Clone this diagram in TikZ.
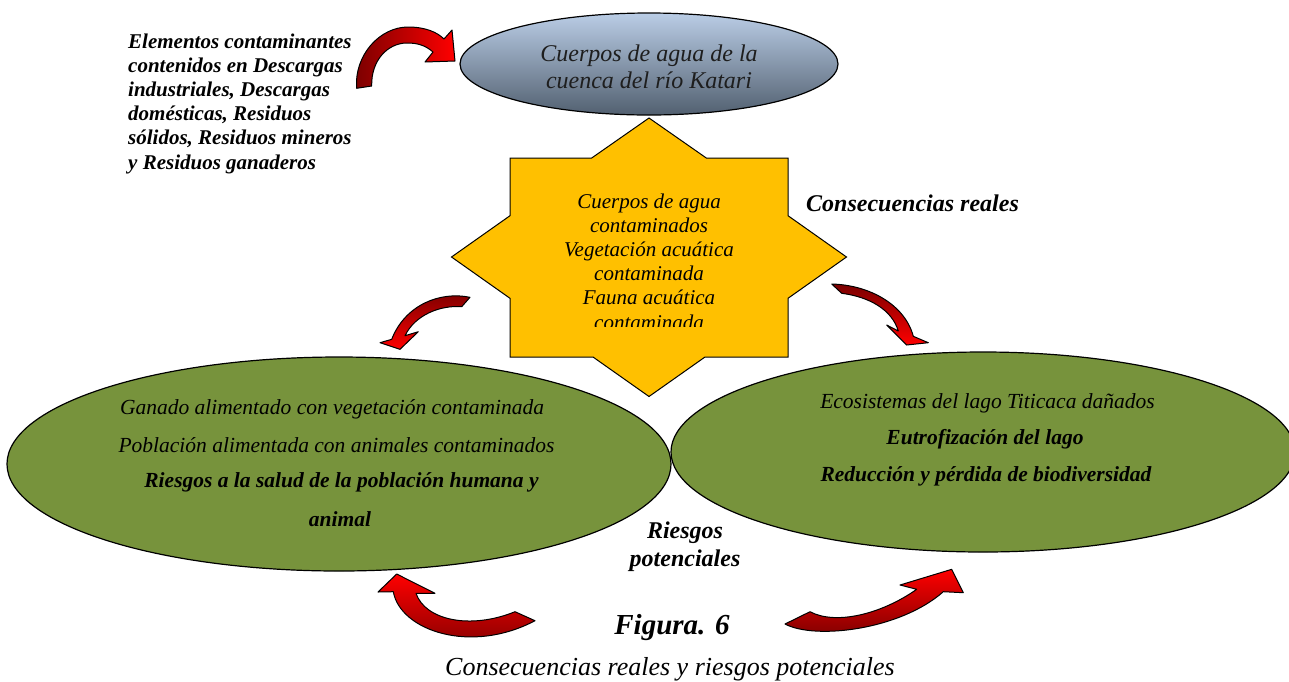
\documentclass[tikz,border=0pt]{standalone}
\usepackage{fontspec}
\setmainfont{Liberation Serif}
\usetikzlibrary{shapes.geometric}
\definecolor{gr}{HTML}{77933C}
\definecolor{starY}{HTML}{FFC000}
\definecolor{topL}{HTML}{BACDE6}
\definecolor{topD}{HTML}{526070}
\definecolor{dred}{HTML}{7A0000}
\definecolor{bred}{HTML}{FF0000}
\definecolor{txtg}{HTML}{1E1E1E}
\begin{document}
\begin{tikzpicture}[x=1pt,y=-1pt,
  oval/.style={ellipse, draw=black, line width=1.2pt, inner sep=0pt},
  blockarrow/.style={draw=black, line width=1pt, line join=round},
  itxt/.style={font=\fontsize{21.5}{24}\selectfont\itshape, inner sep=0pt},
  bitxt/.style={font=\fontsize{21.5}{24}\selectfont\bfseries\itshape, inner sep=0pt},
  lbl/.style={font=\fontsize{24}{27}\selectfont\bfseries\itshape, inner sep=0pt, align=center}
]
\useasboundingbox (0,0) rectangle (1289,681);

% green ellipses
\node[oval, fill=gr, minimum width=664pt, minimum height=214pt] (left) at (339,464) {};
\node[oval, fill=gr, minimum width=624pt, minimum height=200pt] (right) at (983,452) {};

% top ellipse
\node[oval, top color=topL, bottom color=topD, minimum width=378pt, minimum height=102pt] (top) at (649,64) {};
\node[font=\fontsize{24}{27}\selectfont\itshape, text=txtg, align=center, inner sep=0pt] (toptxt) at (649,66.5) {Cuerpos de agua de la\\cuenca del río Katari};

% star
\draw[fill=starY, draw=black, line width=1pt, line join=miter]
  (649,118) -- (706.3,158) -- (788,158) -- (788,215.7) -- (846.5,257) -- (788,298.3)
  -- (788,357) -- (705,357) -- (649,396.5) -- (593,357) -- (510,357) -- (510,298.3)
  -- (451.5,257) -- (510,215.7) -- (510,158) -- (591.7,158) -- cycle;
\begin{scope}
  \clip (500,150) rectangle (800,326);
  \node[font=\fontsize{21}{24.2}\selectfont\itshape, align=center, inner sep=0pt] (startxt) at (649,261.5)
    {Cuerpos de agua\\contaminados\\Vegetación acuática\\contaminada\\Fauna acuática\\contaminada};
\end{scope}

% source text
\node[font=\fontsize{21}{24.2}\selectfont\bfseries\itshape, align=left, inner sep=0pt, anchor=west] (src) at (128,103.5)
  {Elementos contaminantes\\contenidos en Descargas\\industriales, Descargas\\domésticas, Residuos\\sólidos, Residuos mineros\\y Residuos ganaderos};

% labels
\node[lbl] (cr) at (912.5,203.3) {Consecuencias reales};
\node[lbl] (rp1) at (685,533) {Riesgos};
\node[lbl] (rp2) at (685,561) {potenciales};

% left ellipse text
\node[itxt] (l1) at (332,409) {Ganado alimentado con vegetación contaminada};
\node[itxt] (l2) at (336.5,445) {Población alimentada con animales contaminados};
\node[bitxt] (l3) at (341.5,482) {Riesgos a la salud de la población humana y};
\node[bitxt] (l4) at (340,519) {animal};

% right ellipse text
\node[itxt] (r1) at (987.5,403) {Ecosistemas del lago Titicaca dañados};
\node[bitxt] (r2) at (985,439) {Eutrofización del lago};
\node[bitxt] (r3) at (986,476) {Reducción y pérdida de biodiversidad};

% caption
\node[font=\fontsize{29}{32}\selectfont\bfseries\itshape, inner sep=0pt] (fig) at (672,628) {Figura. 6};
\node[font=\fontsize{26}{30}\selectfont\itshape, inner sep=0pt] (cap) at (670,669) {Consecuencias reales y riesgos potenciales};

% arrows
\draw[blockarrow, left color=dred, right color=bred]
  (356.7,88.3) .. controls (354,55) and (380,27) .. (408,27)
  .. controls (425,27) and (437,32) .. (444,39) -- (452,30) -- (455,61) -- (425,62) -- (433,52)
  .. controls (425,45) and (417,43) .. (407,43)
  .. controls (388,43) and (371,60) .. (371.7,86) -- cycle;

\draw[blockarrow, top color=dred, bottom color=bred]
  (470,297.3) .. controls (440,291) and (405,305) .. (391.7,339.3)
  -- (380,342.7) -- (400,349.3) -- (418.3,331.7) -- (405,335.7)
  .. controls (415,315) and (440,305) .. (461.7,306.7) -- cycle;

\draw[blockarrow, top color=dred, bottom color=bred]
  (831.7,284) .. controls (870,285) and (905,305) .. (913.3,336.3)
  -- (928.3,342.7) -- (906.7,345) -- (886.7,325) -- (898.3,331)
  .. controls (892,310) and (870,297) .. (841.7,293.3) -- cycle;

\draw[blockarrow, top color=bred, bottom color=dred]
  (393.3,591.7) -- (378,592) -- (396.7,574) -- (435,593.3) -- (416,593.3)
  .. controls (425,620) and (470,630) .. (515,611.7) -- (535,620.7)
  .. controls (470,655) and (400,630) .. (393.3,591.7) -- cycle;

\draw[blockarrow, top color=bred, bottom color=dred]
  (785,624) .. controls (815,640) and (900,630) .. (943.3,591.7)
  -- (963.3,592.7) -- (951.7,569.3) -- (900,585) -- (916.7,589.3)
  .. controls (880,615) and (835,625) .. (810,611.7) -- cycle;
\end{tikzpicture}
\end{document}
